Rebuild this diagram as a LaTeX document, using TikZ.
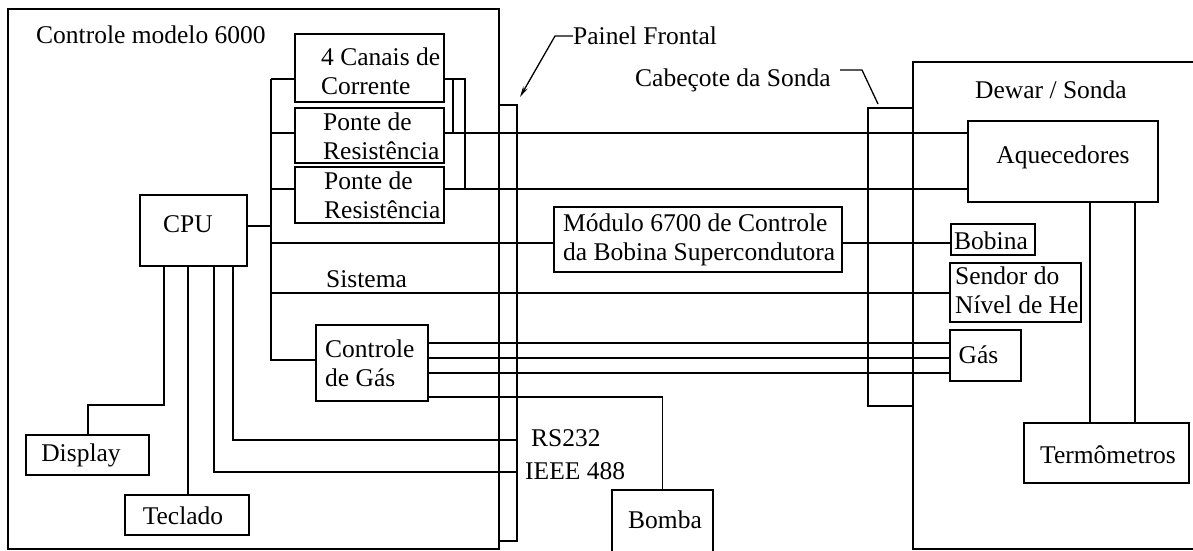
\documentclass[tikz,border=0pt]{standalone}
\usepackage{fontspec}
\setmainfont{Liberation Serif}
\usetikzlibrary{arrows.meta}
\newcommand\diagfont{\fontsize{25.5}{29}\selectfont}
\begin{document}
\begin{tikzpicture}[x=1pt,y=-1pt,
  box/.style={draw, line width=1.6pt, inner sep=0pt},
  txt/.style={font=\diagfont, inner sep=0pt, align=left},
  wire/.style={line width=1.6pt},
  leader/.style={line width=1.3pt}]
\useasboundingbox (0,0) rectangle (1193,551);

% ---- boxes ----
\node[box, minimum width=491pt, minimum height=540pt] (ctrl) at (253.5,279) {};
\node[box, minimum width=18pt, minimum height=436pt] (panel) at (508,323) {};
\node[box, minimum width=149pt, minimum height=68pt] (canais) at (369.5,68) {};
\node[box, minimum width=149pt, minimum height=55pt] (ponte1) at (369.5,135.5) {};
\node[box, minimum width=149pt, minimum height=56pt] (ponte2) at (369.5,195) {};
\node[box, minimum width=107pt, minimum height=71pt] (cpu) at (193.5,230.5) {};
\node[box, minimum width=288pt, minimum height=65pt] (modulo) at (698,239.5) {};
\node[box, minimum width=112pt, minimum height=76pt] (gasctl) at (372,363) {};
\node[box, minimum width=123pt, minimum height=40pt] (display) at (87.5,455) {};
\node[box, minimum width=124pt, minimum height=40pt] (teclado) at (187,515) {};
\node[box, minimum width=101pt, minimum height=62pt] (bomba) at (662.5,521) {};
\node[box, minimum width=282pt, minimum height=487pt] (dewar) at (1054,305.5) {};
\node[box, minimum width=45pt, minimum height=298pt] (cabecote) at (890.5,257) {};
\node[box, minimum width=190pt, minimum height=81pt] (aquec) at (1063,161.5) {};
\node[box, minimum width=84pt, minimum height=31pt] (bobina) at (993,239.5) {};
\node[box, minimum width=131pt, minimum height=59pt] (sendor) at (1015.5,292.5) {};
\node[box, minimum width=71pt, minimum height=51pt] (gas) at (985.5,355.5) {};
\node[box, minimum width=165pt, minimum height=60pt] (termo) at (1106.5,453) {};

% ---- texts ----
\node[txt, anchor=base west] (tctrl) at (36,43.3) {Controle modelo 6000};
\node[txt, anchor=west] (tcanais) at (321,71.7) {4 Canais de\\Corrente};
\node[txt, anchor=west] (tponte1) at (323,136.3) {Ponte de\\Resistência};
\node[txt, anchor=west] (tponte2) at (324,195) {Ponte de\\Resistência};
\node[txt, anchor=west] (tmodulo) at (563,239.6) {Módulo 6700 de Controle\\da Bobina Supercondutora};
\node[txt, anchor=west] (tgasctl) at (325,363.6) {Controle\\de Gás};
\node[txt, anchor=west] (tsendor) at (955,290) {Sendor do\\Nível de He};
\node[txt, anchor=base west] (tsist) at (326,287) {Sistema};
\node[txt, anchor=base west] (trs) at (531,446.3) {RS232};
\node[txt, anchor=base west] (tieee) at (525,479) {IEEE 488};
\node[txt, anchor=base west] (tpainel) at (573,44.3) {Painel Frontal};
\node[txt, anchor=base west] (tcab) at (635,86.7) {Cabeçote da Sonda};
\node[txt, anchor=base west] (tdewar) at (975,98.3) {Dewar / Sonda};
\node[txt, anchor=base] (tcpu) at (188,232) {CPU};
\node[txt, anchor=base] (taquec) at (1063,163) {Aquecedores};
\node[txt, anchor=base] (ttermo) at (1108,463) {Termômetros};
\node[txt, anchor=base] (tdisplay) at (81,461) {Display};
\node[txt, anchor=base] (tteclado) at (183,524) {Teclado};
\node[txt, anchor=base] (tbomba) at (665,528) {Bomba};
\node[txt, anchor=base] (tgas) at (978.5,363) {Gás};
\node[txt, anchor=base] (tbobina) at (991,249) {Bobina};

% ---- bus coordinates ----
\coordinate (busT) at (271,79);
\coordinate (busB) at (271,360);
\coordinate (bcpu) at (271,226);
\coordinate (b1) at (271,133);
\coordinate (b2) at (271,189);
\coordinate (bmod) at (271,243);
\coordinate (bsis) at (271,293);

% ---- wires ----
\draw[wire] (busT) -- (busB) -- (gasctl.west |- busB);
\draw[wire] (cpu.east |- bcpu) -- (bcpu);
\draw[wire] (busT) -- (canais.west |- busT);
\draw[wire] (b1) -- (ponte1.west |- b1);
\draw[wire] (b2) -- (ponte2.west |- b2);
\draw[wire] (bmod) -- (modulo.west |- bmod);
\draw[wire] (bsis) -- (sendor.west |- bsis);
\draw[wire] (ponte1.east |- b1) -- (aquec.west |- b1);
\draw[wire] (ponte2.east |- b2) -- (aquec.west |- b2);
\draw[wire] (canais.east |- busT) -- (465,79) -- (465,189);
\draw[wire] (453,79) -- (453,133);
\draw[wire] (modulo.east |- bmod) -- (bobina.west |- bmod);
\draw[wire] (gasctl.east |- 0,343) -- (gas.west |- 0,343);
\draw[wire] (gasctl.east |- 0,358) -- (gas.west |- 0,358);
\draw[wire] (gasctl.east |- 0,373) -- (gas.west |- 0,373);
\draw[wire] (gasctl.east |- 0,397) -- (bomba.north |- 0,397) -- (bomba.north);
\draw[wire] (aquec.south -| 1090,0) -- (termo.north -| 1090,0);
\draw[wire] (aquec.south -| 1135,0) -- (termo.north -| 1135,0);
\draw[wire] (cpu.south -| 164,0) -- (164,405) -- (88,405) -- (display.north -| 88,0);
\draw[wire] (cpu.south -| 188,0) -- (teclado.north -| 188,0);
\draw[wire] (cpu.south -| 214,0) -- (214,472) -- (panel.east |- 0,472);
\draw[wire] (cpu.south -| 233,0) -- (233,440) -- (panel.east |- 0,440);

% ---- leaders ----
\draw[leader, -{Stealth[length=11pt,width=5pt]}] (tpainel.west |- 0,36) -- (555,36) -- (520,97);
\draw[leader] (840,70) -- (862,70) -- (878,104);
\end{tikzpicture}
\end{document}
